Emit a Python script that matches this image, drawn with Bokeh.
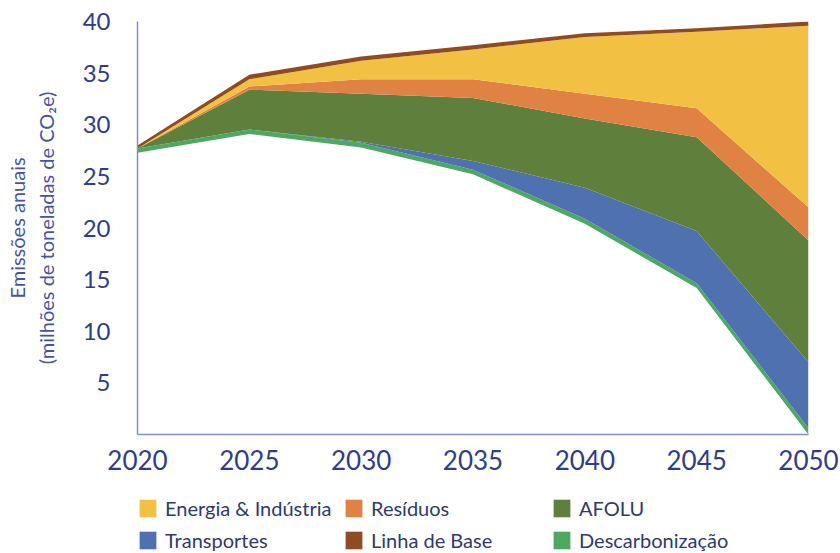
import numpy as np
from bokeh.plotting import figure
from bokeh.layouts import column
from bokeh.models import Legend, LegendItem, FixedTicker, Range1d
from bokeh.embed import file_html
from bokeh.resources import INLINE

# ---- data (Mt CO2e) ----
anos = [2020, 2025, 2030, 2035, 2040, 2045, 2050]
# invisible base below the decarbonisation path
nivel_inferior = [27.3, 29.1, 27.8, 25.2, 20.4, 14.2, 0.0]
descarbonizacao = [0.4, 0.45, 0.45, 0.45, 0.5, 0.45, 0.6]
transportes = [0.0, 0.0, 0.1, 0.85, 3.0, 5.05, 6.4]
afolu = [0.0, 3.85, 4.65, 6.1, 6.7, 9.1, 11.8]
residuos = [0.0, 0.3, 1.4, 1.8, 2.4, 2.8, 3.2]
energia = [0.0, 0.7, 1.8, 2.9, 5.5, 7.4, 17.6]
linha_base = [0.3, 0.45, 0.4, 0.4, 0.35, 0.35, 0.4]

series = [
    ("Descarbonização", descarbonizacao, "#4DA862"),
    ("Transportes", transportes, "#4F71B0"),
    ("AFOLU", afolu, "#5E803C"),
    ("Resíduos", residuos, "#E08244"),
    ("Energia & Indústria", energia, "#F2C144"),
    ("Linha de Base", linha_base, "#8F4B21"),
]
colors = {n: c for n, _, c in series}

x_ticks = [2020, 2025, 2030, 2035, 2040, 2045, 2050]
y_ticks = [5, 10, 15, 20, 25, 30, 35, 40]

TXT = "#2E3D8A"
AX = "#7F8FC9"

p = figure(width=840, height=490, x_range=(2020, 2050), y_range=(0, 40),
           output_backend="svg", toolbar_location=None,
           min_border_left=137, min_border_right=32, min_border_top=21, min_border_bottom=56)
p.outline_line_color = None
p.grid.grid_line_color = None

x = np.array(anos, dtype=float)
bottom = np.array(nivel_inferior, dtype=float)
for name, vals, col in series:
    top = bottom + np.array(vals, dtype=float)
    p.varea(x=x, y1=bottom, y2=top, fill_color=col)
    bottom = top

p.xaxis.ticker = FixedTicker(ticks=x_ticks)
p.yaxis.ticker = FixedTicker(ticks=y_ticks)
for ax in (p.xaxis, p.yaxis):
    ax.major_tick_line_color = None
    ax.minor_tick_line_color = None
    ax.major_tick_out = 0
    ax.major_tick_in = 0
    ax.minor_tick_out = 0
    ax.axis_line_color = AX
    ax.axis_line_width = 1.5
    ax.major_label_text_font = "Lato"
    ax.major_label_text_color = TXT
p.xaxis.major_label_text_font_size = "26px"
p.yaxis.major_label_text_font_size = "24px"
p.xaxis.major_label_standoff = 15
p.yaxis.major_label_standoff = 27

p.yaxis.axis_label = "Emissões anuais\n(milhões de toneladas de CO₂e)"
p.yaxis.axis_label_text_font = "Lato"
p.yaxis.axis_label_text_font_size = "20px"
p.yaxis.axis_label_text_font_style = "normal"
p.yaxis.axis_label_text_color = "#4553A3"
p.yaxis.axis_label_standoff = 22

# ---- legend strip (frame is aligned with the chart's frame) ----
lf = figure(width=840, height=63, output_backend="svg", toolbar_location=None,
            x_axis_location=None, y_axis_location=None,
            x_range=Range1d(0, 1), y_range=Range1d(0, 1),
            min_border_left=137, min_border_right=32, min_border_top=0, min_border_bottom=0)
lf.outline_line_color = None
lf.grid.grid_line_color = None
# legend-only renderers, placed outside the visible range
lrend = {n: lf.varea(x=[5, 6], y1=[5, 5], y2=[6, 6], fill_color=colors[n]) for n in colors}

legend_cols = [
    (0, ["Energia & Indústria", "Transportes"]),
    (206, ["Resíduos", "Linha de Base"]),
    (414, ["AFOLU", "Descarbonização"]),
]
for xpos, names in legend_cols:
    lg = Legend(items=[LegendItem(label=n, renderers=[lrend[n]]) for n in names],
                location=(xpos, 1), orientation="vertical",
                border_line_color=None, background_fill_alpha=0,
                label_text_font="Lato", label_text_font_size="20px", label_text_color="#2E3A6E",
                glyph_width=21, glyph_height=22, label_standoff=7, spacing=8,
                padding=0, margin=0, label_height=22)
    lf.add_layout(lg, "center")

open("out.html", "w").write(file_html(column(p, lf), INLINE))
